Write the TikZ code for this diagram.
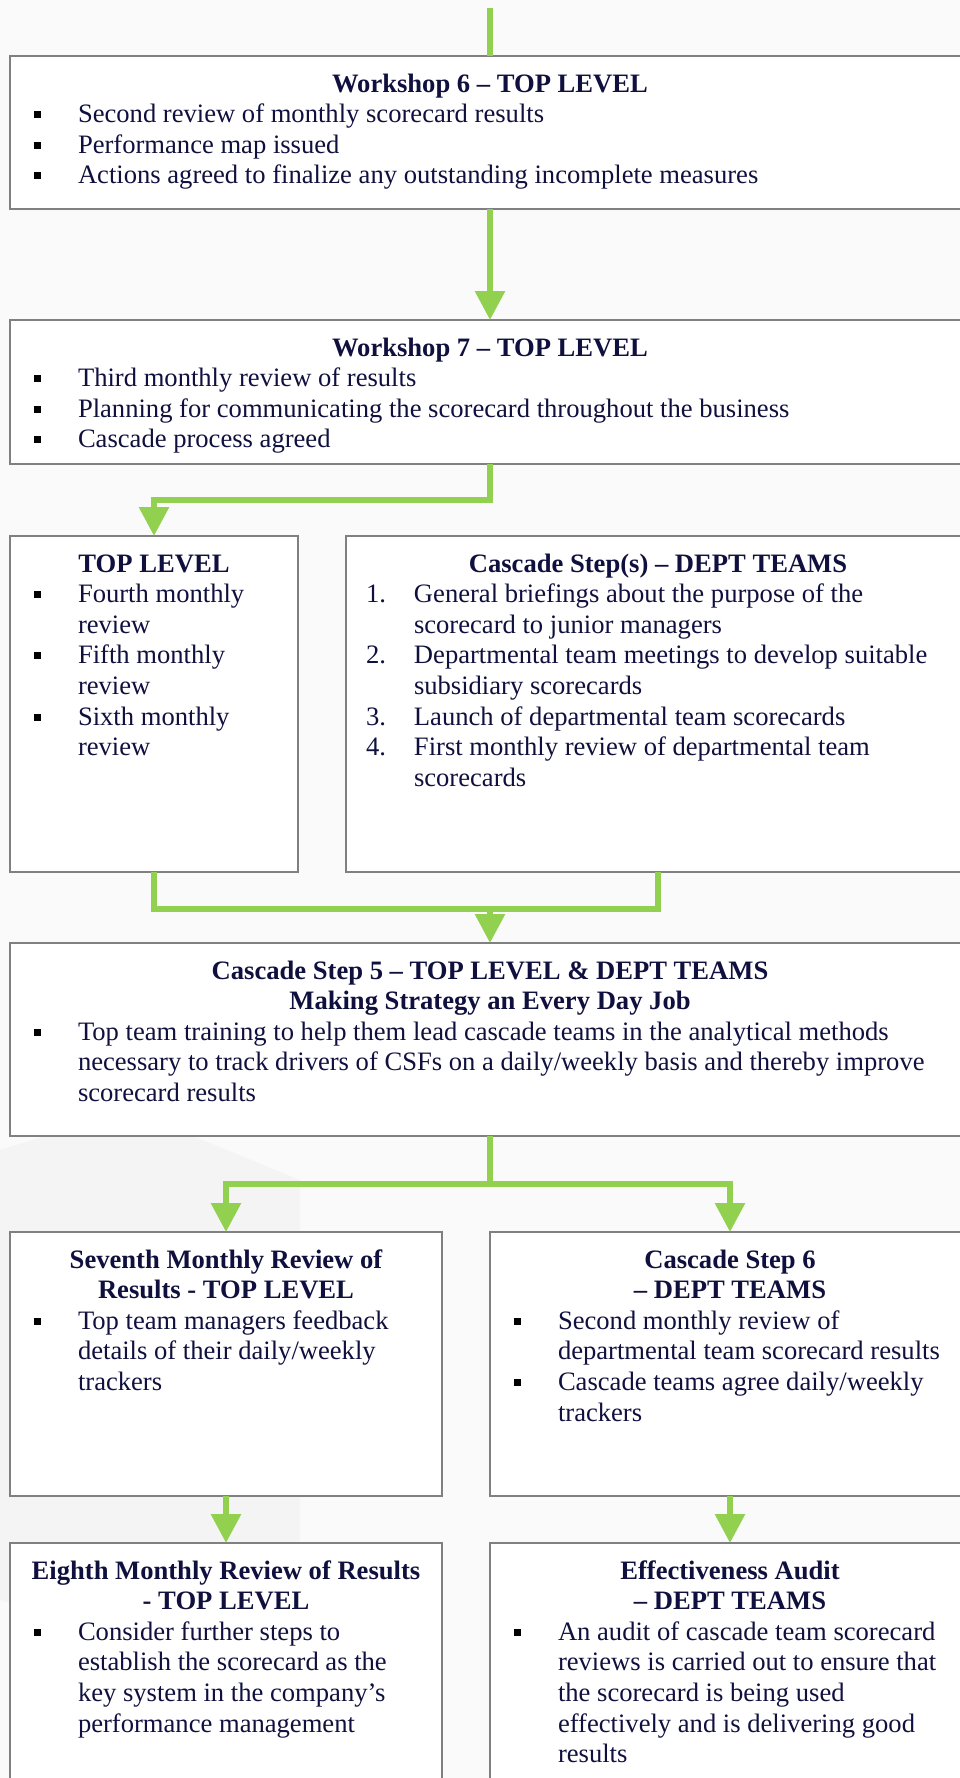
\documentclass[tikz,border=0pt]{standalone}
\usepackage{fontspec}
\setmainfont{Liberation Serif}
\usetikzlibrary{arrows.meta, positioning}

\definecolor{leafgreen}{HTML}{92D050}
\definecolor{inkblue}{HTML}{10103F}
\definecolor{framegray}{HTML}{808080}
\definecolor{paper}{HTML}{FAFAFA}

\newcommand{\sqbullet}{{\color{black}\rule[4.5pt]{7pt}{7pt}}}
\newcommand{\heading}[1]{{\centering\bfseries\strut #1\par}}
\newcommand{\bitem}[1]{{\raggedright\let\\\newline\hangindent=50pt\hangafter=1\noindent\hspace*{6pt}\makebox[44pt][l]{\sqbullet}#1\par}}
\newcommand{\nitem}[2]{{\raggedright\let\\\newline\hangindent=50pt\hangafter=1\noindent\hspace*{2pt}\makebox[48pt][l]{#1}#2\par}}
\newcommand{\panel}[3]{\parbox[t][\dimexpr #2-29.3pt\relax][t]{\dimexpr #1-36pt\relax}{#3}}

\tikzstyle{stage} = [rectangle, draw=framegray, line width=2.5pt, fill=white, inner xsep=18pt, inner ysep=14.65pt, outer sep=0pt, text=inkblue, font=\fontsize{26.6pt}{30.6pt}\selectfont]
\tikzstyle{arrow} = [line width=6pt, draw=leafgreen, -{Triangle[width=29pt,length=29pt]}]
\tikzstyle{link} = [line width=6pt, draw=leafgreen]
\tikzset{
    shade/.style={
        fill=black,
        opacity=0.025
    }
}

\begin{document}
\begin{tikzpicture}[x=1pt, y=-1pt]
	\useasboundingbox (0,0) rectangle (960,1778);
	\clip (0,0) rectangle (960,1778);
	\fill [paper] (0,0) rectangle (960,1778);
	\fill [shade] (0,1150) -- (130,1110) -- (300,1180) -- (300,1560) -- (130,1640) -- (0,1600) -- cycle;

	\node (ws6) [stage, anchor=north west] at (10,56) {\panel{960pt}{153pt}{
		\heading{Workshop 6 – TOP LEVEL}
		\bitem{Second review of monthly scorecard results}
		\bitem{Performance map issued}
		\bitem{Actions agreed to finalize any outstanding incomplete measures}}};
	\node (ws7) [stage, below = 111pt of ws6] {\panel{960pt}{144pt}{
		\heading{Workshop 7 – TOP LEVEL}
		\bitem{Third monthly review of results}
		\bitem{Planning for communicating the scorecard throughout the business}
		\bitem{Cascade process agreed}}};
	\node (toplvl) [stage, below = 72pt of ws7.south west, anchor=north west] {\panel{288pt}{336pt}{
		\heading{TOP LEVEL}
		\bitem{Fourth monthly\\review}
		\bitem{Fifth monthly\\review}
		\bitem{Sixth monthly\\review}}};
	\node (cascade) [stage, right = 48pt of toplvl.north east, anchor=north west] {\panel{624pt}{336pt}{
		\heading{Cascade Step(s) – DEPT TEAMS}
		\nitem{1.}{General briefings about the purpose of the\\scorecard to junior managers}
		\nitem{2.}{Departmental team meetings to develop suitable\\subsidiary scorecards}
		\nitem{3.}{Launch of departmental team scorecards}
		\nitem{4.}{First monthly review of departmental team\\scorecards}}};
	\node (step5) [stage, below = 71pt of toplvl.south west, anchor=north west] {\panel{960pt}{193pt}{
		\heading{Cascade Step 5 – TOP LEVEL \& DEPT TEAMS\\Making Strategy an Every Day Job}
		\bitem{Top team training to help them lead cascade teams in the analytical methods\\necessary to track drivers of CSFs on a daily/weekly basis and thereby improve\\scorecard results}}};
	\node (seventh) [stage, below = 96pt of step5.south west, anchor=north west] {\panel{432pt}{264pt}{
		\heading{Seventh Monthly Review of\\Results - TOP LEVEL}
		\bitem{Top team managers feedback\\details of their daily/weekly\\trackers}}};
	\node (step6) [stage, right = 48pt of seventh.north east, anchor=north west] {\panel{480pt}{264pt}{
		\heading{Cascade Step 6\\– DEPT TEAMS}
		\bitem{Second monthly review of\\departmental team scorecard results}
		\bitem{Cascade teams agree daily/weekly\\trackers}}};
	\node (eighth) [stage, below = 47pt of seventh.south west, anchor=north west] {\panel{432pt}{270pt}{
		\heading{Eighth Monthly Review of Results\\- TOP LEVEL}
		\bitem{Consider further steps to\\establish the scorecard as the\\key system in the company’s\\performance management}}};
	\node (audit) [stage, right = 48pt of eighth.north east, anchor=north west] {\panel{480pt}{270pt}{
		\heading{Effectiveness Audit\\– DEPT TEAMS}
		\bitem{An audit of cascade team scorecard\\reviews is carried out to ensure that\\the scorecard is being used\\effectively and is delivering good\\results}}};

	\coordinate (entry) at (490,8);
	\draw [link] (entry) -- (ws6);
	\draw [arrow] (ws6) -- (ws7);
	\draw [arrow] (ws7.south) -- ++(0,36) -| (toplvl.north);
	\draw [link] (toplvl.south) -- ++(0,37) coordinate (merge) -| (cascade.south);
	\draw [arrow] (merge -| step5.north) -- (step5.north);
	\draw [arrow] (step5.south) -- ++(0,48) -| (seventh.north);
	\draw [arrow] (step5.south) -- ++(0,48) -| (step6.north);
	\draw [arrow] (seventh) -- (eighth);
	\draw [arrow] (step6) -- (audit);
\end{tikzpicture}
\end{document}
